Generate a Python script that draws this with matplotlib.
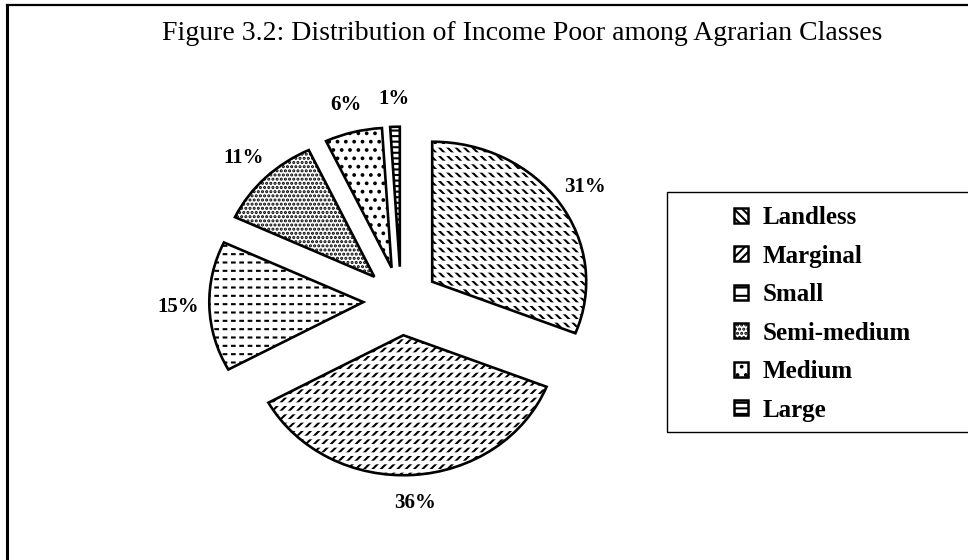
import matplotlib.pyplot as plt
from matplotlib.patches import Rectangle, Patch
from matplotlib.lines import Line2D

plt.rcParams['font.family'] = ['Liberation Serif', 'DejaVu Serif']
plt.rcParams['hatch.linewidth'] = 1.5

classes = ["Landless", "Marginal", "Small", "Semi-medium", "Medium", "Large"]
shares = [31, 36, 15, 11, 6, 1]
hatches = ['\\\\\\\\', '////', '--', '....', '..', '---']
# white hatch drawn over the black one, breaks lines into rows of dashes
breaks = ['--', '--', '||', '', '', '']
title = "Figure 3.2: Distribution of Income Poor among Agrarian Classes"

W, H = 968, 560
fig = plt.figure(figsize=(W / 100, H / 100), dpi=100)

# pie axes: centre at (401, 301) px, x radius 154 px, y radius 140 px
cx, cy, rx, ry, half = 401, 301, 154, 140, 250
ax = fig.add_axes([(cx - half) / W, (H - cy - half) / H, 2 * half / W, 2 * half / H])
explode = [0.245] * len(shares)
pie_kw = dict(explode=explode, startangle=90, counterclock=False)

wedges, _ = ax.pie(shares, colors=['white'] * len(shares),
                   wedgeprops=dict(edgecolor='black', linewidth=0), **pie_kw)
for w, h in zip(wedges, hatches):
    w.set_hatch(h)

with plt.rc_context({'hatch.linewidth': 2.6}):
    overlay, _ = ax.pie(shares, wedgeprops=dict(facecolor='none', edgecolor='white', linewidth=0), **pie_kw)
    for w, h in zip(overlay, breaks):
        w.set_hatch(h)
        if hasattr(w, 'set_hatch_linewidth'):
            w.set_hatch_linewidth(2.6)

outline, _, autotexts = ax.pie(
    shares, autopct='%1.0f%%', pctdistance=1.2,
    wedgeprops=dict(facecolor='none', edgecolor='black', linewidth=1.9),
    textprops=dict(fontsize=15, fontweight='bold', color='black'), **pie_kw)

ax.set_aspect('auto')
ax.set_xlim(-half / rx, half / rx)
ax.set_ylim(-half / ry, half / ry)

handles = [Patch(facecolor='white', edgecolor='black', linewidth=1.8, hatch=h) for h in hatches]
fig.legend(handles, classes, loc='upper left', bbox_to_anchor=(734 / W, 1 - 206 / H),
           frameon=False, prop=dict(size=18, weight='bold'), handlelength=0.55, handleheight=0.55,
           handletextpad=0.6, labelspacing=0.62, borderpad=0, borderaxespad=0)
fig.add_artist(Rectangle((667 / W, 1 - 432 / H), (W - 657) / W, 240 / H,
                         transform=fig.transFigure, fill=False, edgecolor='black', lw=1))

# scanned frame: left and top edges only
fig.add_artist(Line2D([7 / W, 7 / W], [0, 1 - 5 / H], color='black', lw=2.2))
fig.add_artist(Line2D([7 / W, 1], [1 - 5 / H, 1 - 5 / H], color='black', lw=1.6))

fig.text(522 / W, 1 - 33 / H, title, ha='center', va='center', fontsize=20)

fig.savefig("out.png", dpi=100)
